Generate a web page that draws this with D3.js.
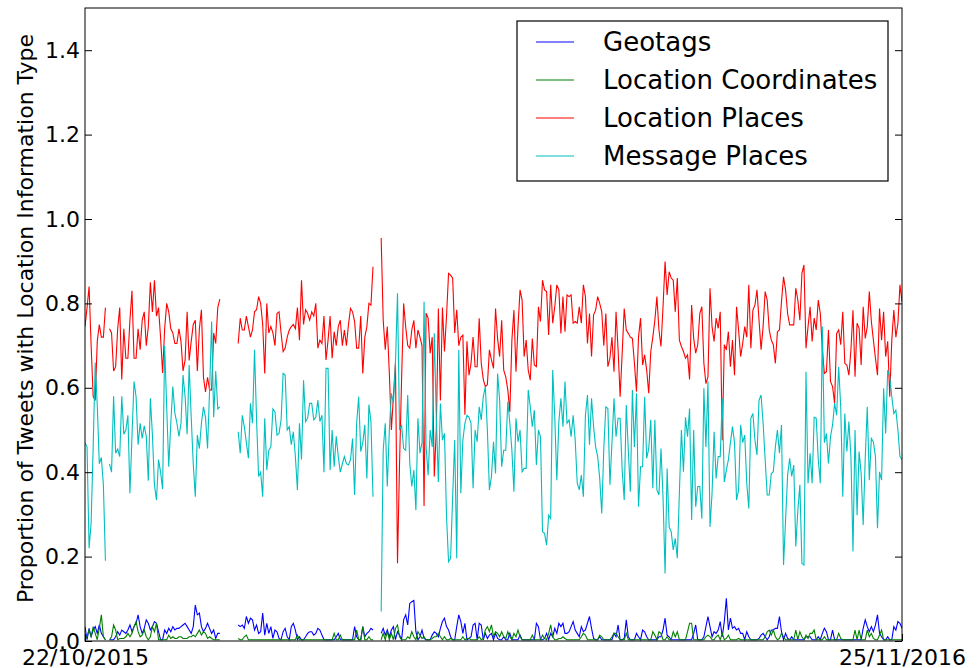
<!DOCTYPE html>
<html>
<head>
<meta charset="utf-8">
<script src="https://cdn.jsdelivr.net/npm/d3@7"></script>
<style>
  body { margin: 0; background: #fff; }
  svg { display: block; font-family: "DejaVu Sans", sans-serif; }
</style>
</head>
<body>
<svg id="chart" width="980" height="668"></svg>
<script>
// daily proportions, three recorded runs (days with no data are left out)
const dateLabels = ['22/10/2015', '25/11/2016'];
const runStarts = [0, 75, 145];
const yTicks = [0, 0.2, 0.4, 0.6, 0.8, 1.0, 1.2, 1.4];
const seriesNames = ['Geotags', 'Location Coordinates', 'Location Places', 'Message Places'];

const geotags = [
    [0.034, 0.003, 0.030, 0.010, 0.026, 0.034, 0.018, 0.038, 0.018, 0.010,
     0.003, null, 0.003, 0.003, 0.003, 0.010, 0.022, 0.014, 0.026, 0.022,
     0.018, 0.026, 0.038, 0.022, 0.034, 0.042, 0.062, 0.034, 0.018, 0.030,
     0.050, 0.042, 0.026, 0.034, 0.046, 0.042, 0.022, 0.003, 0.003, 0.026,
     0.018, 0.030, 0.022, 0.034, 0.026, 0.030, 0.030, 0.034, 0.038, 0.042,
     0.034, 0.026, 0.018, 0.034, 0.085, 0.062, 0.066, 0.034, 0.022, 0.030,
     0.042, 0.030, 0.018, 0.026, 0.006, 0.018, 0.018],
    [0.038, 0.034, 0.038, 0.030, 0.058, 0.042, 0.054, 0.050, 0.026, 0.038,
     0.018, 0.022, 0.066, 0.014, 0.042, 0.018, 0.034, 0.006, 0.026, 0.022,
     0.006, 0.003, 0.022, 0.030, 0.010, 0.003, 0.034, 0.042, 0.026, 0.003,
     0.010, 0.003, 0.003, 0.010, 0.018, 0.022, 0.022, 0.014, 0.018, 0.030,
     0.026, 0.014, 0.003, 0.003, 0.003, 0.003, 0.003, 0.003, 0.010, 0.018,
     0.003, 0.003, 0.003, 0.003, 0.003, 0.003, 0.003, 0.034, 0.010, 0.003,
     0.003, 0.034, 0.010, 0.018, 0.022, 0.030, 0.026],
    [0.018, 0.030, 0.014, 0.026, 0.010, 0.026, 0.034, 0.003, 0.022, 0.014,
     0.003, 0.050, 0.062, 0.038, 0.089, 0.093, 0.096, 0.022, 0.003, 0.010,
     0.026, 0.006, 0.003, 0.003, 0.003, 0.014, 0.022, 0.018, 0.010, 0.030,
     0.046, 0.054, 0.034, 0.026, 0.010, 0.003, 0.003, 0.034, 0.062, 0.046,
     0.018, 0.042, 0.003, 0.006, 0.010, 0.038, 0.042, 0.003, 0.042, 0.038,
     0.003, 0.018, 0.006, 0.014, 0.018, 0.003, 0.018, 0.006, 0.003, 0.003,
     0.010, 0.003, 0.003, 0.018, 0.003, 0.003, 0.003, 0.003, 0.014, 0.003,
     0.003, 0.003, 0.003, 0.003, 0.003, 0.003, 0.042, 0.034, 0.003, 0.003,
     0.006, 0.018, 0.003, 0.018, 0.010, 0.030, 0.018, 0.042, 0.034, 0.042,
     0.018, 0.018, 0.022, 0.034, 0.046, 0.026, 0.018, 0.010, 0.034, 0.022,
     0.026, 0.042, 0.058, 0.030, 0.006, 0.003, 0.003, 0.010, 0.003, 0.003,
     0.003, 0.003, 0.003, 0.003, 0.018, 0.010, 0.038, 0.003, 0.003, 0.006,
     0.050, 0.010,
     0.003, 0.003, 0.003, 0.018, 0.010, 0.003, 0.026, 0.022, 0.010, 0.003,
     0.003, 0.003, 0.003, 0.003, 0.010, 0.010, 0.026, 0.054, 0.014, 0.010,
     0.003, 0.003, 0.003, 0.003, 0.003, 0.003, 0.003, 0.003, 0.003, 0.003,
     0.003, 0.018, 0.038, 0.003, 0.003, 0.003, 0.010, 0.034, 0.058, 0.034,
     0.010, 0.022, 0.018, 0.026, 0.046, 0.010, 0.046, 0.101, 0.026, 0.054,
     0.030, 0.034, 0.026, 0.030, 0.018, 0.018, 0.003, 0.022, 0.010, 0.003,
     0.003, 0.003, 0.003, 0.006, 0.014, 0.018, 0.010, 0.003, 0.010, 0.026,
     0.026, 0.030, 0.030, 0.058, 0.022, 0.003, 0.018, 0.006, 0.003, 0.010,
     0.003, 0.003, 0.003, 0.003, 0.003, 0.003, 0.010, 0.010, 0.010, 0.003,
     0.003, 0.003, 0.010, 0.003, 0.018, 0.030, 0.022, 0.003, 0.003, 0.026,
     0.003, 0.003, 0.003, 0.003, 0.003, 0.003, 0.003, 0.003, 0.003, 0.003,
     0.003, 0.003, 0.003, 0.003, 0.030, 0.050, 0.034, 0.022, 0.034, 0.022,
     0.038, 0.062, 0.018, 0.010, 0.003, 0.003, 0.010, 0.003, 0.003, 0.034,
     0.026, 0.046, 0.042, 0.030]
];

const locationCoordinates = [
    [0.003, 0.010, 0.026, 0.010, 0.034, 0.018, 0.003, 0.030, 0.062, 0.010,
     0.003, null, 0.003, 0.010, 0.038, 0.026, 0.003, 0.006, 0.006, 0.006,
     0.010, 0.018, 0.010, 0.018, 0.034, 0.046, 0.022, 0.010, 0.014, 0.026,
     0.010, 0.003, 0.010, 0.034, 0.022, 0.042, 0.003, 0.003, 0.003, 0.003,
     0.003, 0.014, 0.006, 0.010, 0.006, 0.006, 0.010, 0.010, 0.006, 0.006,
     0.006, 0.010, 0.010, 0.014, 0.010, 0.018, 0.026, 0.014, 0.022, 0.018,
     0.006, 0.010, 0.006, 0.003, 0.003, 0.003, 0.003],
    [0.006, 0.003, 0.003, 0.010, 0.014, 0.003, 0.003, 0.003, 0.003, 0.003,
     0.003, 0.003, 0.003, 0.003, 0.003, 0.003, 0.003, 0.003, 0.003, 0.003,
     0.003, 0.003, 0.003, 0.003, 0.003, 0.003, 0.003, 0.003, 0.003, 0.014,
     0.003, 0.003, 0.003, 0.003, 0.003, 0.003, 0.003, 0.003, 0.003, 0.003,
     0.003, 0.003, 0.003, 0.003, 0.003, 0.003, 0.003, 0.018, 0.003, 0.003,
     0.014, 0.003, 0.003, 0.003, 0.003, 0.003, 0.003, 0.003, 0.026, 0.003,
     0.003, 0.034, 0.003, 0.003, 0.010, 0.003, 0.003],
    [0.003, 0.018, 0.003, 0.022, 0.003, 0.018, 0.003, 0.030, 0.038, 0.010,
     0.003, 0.003, 0.003, 0.010, 0.006, 0.022, 0.010, 0.003, 0.022, 0.014,
     0.006, 0.010, 0.003, 0.003, 0.003, 0.006, 0.010, 0.010, 0.018, 0.010,
     0.003, 0.010, 0.003, 0.003, 0.006, 0.003, 0.003, 0.003, 0.003, 0.003,
     0.010, 0.003, 0.006, 0.006, 0.003, 0.003, 0.003, 0.003, 0.010, 0.003,
     0.006, 0.026, 0.034, 0.022, 0.038, 0.010, 0.022, 0.018, 0.010, 0.022,
     0.010, 0.006, 0.022, 0.010, 0.003, 0.018, 0.010, 0.026, 0.010, 0.003,
     0.003, 0.003, 0.003, 0.003, 0.014, 0.003, 0.003, 0.003, 0.003, 0.014,
     0.006, 0.003, 0.018, 0.038, 0.010, 0.003, 0.003, 0.006, 0.006, 0.010,
     0.006, 0.003, 0.003, 0.003, 0.003, 0.003, 0.003, 0.003, 0.010, 0.018,
     0.014, 0.003, 0.003, 0.003, 0.003, 0.003, 0.003, 0.014, 0.010, 0.003,
     0.003, 0.003, 0.003, 0.010, 0.018, 0.018, 0.010, 0.003, 0.003, 0.003,
     0.018, 0.003,
     0.003, 0.003, 0.003, 0.003, 0.003, 0.003, 0.003, 0.003, 0.003, 0.003,
     0.003, 0.022, 0.014, 0.003, 0.022, 0.018, 0.003, 0.003, 0.010, 0.003,
     0.003, 0.022, 0.010, 0.022, 0.003, 0.003, 0.003, 0.003, 0.022, 0.042,
     0.042, 0.003, 0.003, 0.003, 0.003, 0.003, 0.003, 0.010, 0.014, 0.010,
     0.003, 0.003, 0.010, 0.014, 0.003, 0.018, 0.003, 0.006, 0.014, 0.003,
     0.003, 0.003, 0.003, 0.006, 0.003, 0.003, 0.003, 0.003, 0.003, 0.003,
     0.003, 0.003, 0.003, 0.003, 0.003, 0.003, 0.010, 0.022, 0.026, 0.014,
     0.026, 0.010, 0.003, 0.006, 0.018, 0.010, 0.003, 0.003, 0.003, 0.003,
     0.003, 0.026, 0.003, 0.022, 0.010, 0.003, 0.014, 0.006, 0.018, 0.018,
     0.026, 0.003, 0.003, 0.003, 0.003, 0.010, 0.003, 0.003, 0.003, 0.003,
     0.003, 0.003, 0.018, 0.006, 0.003, 0.003, 0.003, 0.003, 0.003, 0.003,
     0.026, 0.003, 0.026, 0.003, 0.003, 0.003, 0.026, 0.010, 0.018, 0.006,
     0.003, 0.003, 0.014, 0.026, 0.003, 0.003, 0.003, 0.003, 0.003, 0.003,
     0.003, 0.003, 0.003, 0.003]
];

const locationPlaces = [
    [0.745, 0.79, 0.84, 0.70, 0.58, 0.57, 0.71, 0.75, 0.72, 0.72,
     0.79, null, 0.74, 0.73, 0.64, 0.65, 0.74, 0.79, 0.62, 0.74,
     0.67, 0.67, 0.76, 0.83, 0.67, 0.67, 0.74, 0.69, 0.76, 0.78,
     0.70, 0.745, 0.85, 0.78, 0.855, 0.77, 0.79, 0.72, 0.635, 0.74,
     0.80, 0.78, 0.74, 0.73, 0.705, 0.705, 0.74, 0.71, 0.64, 0.665,
     0.78, 0.665, 0.71, 0.75, 0.76, 0.64, 0.74, 0.785, 0.625, 0.59,
     0.625, 0.595, 0.595, 0.73, 0.705, 0.79, 0.81],
    [0.705, 0.765, 0.737, 0.737, 0.77, 0.745, 0.72, 0.737, 0.78, 0.785,
     0.816, 0.80, 0.75, 0.634, 0.80, 0.73, 0.745, 0.73, 0.70, 0.776,
     0.78, 0.73, 0.686, 0.694, 0.72, 0.737, 0.745, 0.75, 0.74, 0.79,
     0.713, 0.855, 0.75, 0.785, 0.776, 0.76, 0.78, 0.77, 0.80, 0.694,
     0.713, 0.705, 0.77, 0.666, 0.713, 0.77, 0.67, 0.733, 0.70, 0.745,
     0.76, 0.70, 0.737, 0.70, 0.75, 0.788, 0.78, 0.757, 0.694, 0.694,
     0.77, 0.634, 0.72, 0.745, 0.80, 0.796, 0.887],
    [0.955, 0.76, 0.69, 0.745, 0.635, 0.50, 0.58, 0.66, 0.184, 0.42,
     0.62, 0.80, 0.745, 0.70, 0.694, 0.737, 0.76, 0.694, 0.737, 0.72,
     0.70, 0.32, 0.777, 0.765, 0.682, 0.72, 0.39, 0.50, 0.788, 0.57,
     0.79, 0.686, 0.77, 0.871, 0.867, 0.86, 0.73, 0.785, 0.70, 0.72,
     0.725, 0.536, 0.71, 0.63, 0.658, 0.72, 0.65, 0.65, 0.765, 0.658,
     0.62, 0.603, 0.607, 0.69, 0.666, 0.646, 0.788, 0.717, 0.674, 0.76,
     0.642, 0.626, 0.595, 0.543, 0.713, 0.784, 0.638, 0.745, 0.832, 0.808,
     0.674, 0.713, 0.642, 0.618, 0.717, 0.654, 0.65, 0.792,
     0.757, 0.855, 0.832, 0.828, 0.725, 0.844, 0.753, 0.792, 0.844, 0.832,
     0.729, 0.816, 0.733, 0.82, 0.816, 0.82, 0.753, 0.757, 0.753, 0.792,
     0.753, 0.844, 0.816, 0.705, 0.776, 0.674, 0.773, 0.784, 0.816, 0.80,
     0.78, 0.70, 0.776, 0.65, 0.67, 0.72, 0.638, 0.78, 0.69, 0.579,
     0.682, 0.788, 0.737, 0.729, 0.72, 0.717, 0.658, 0.591, 0.72, 0.765,
     0.654, 0.678, 0.642, 0.587, 0.686, 0.72, 0.76, 0.816, 0.737,
     0.698, 0.792, 0.899, 0.82, 0.875, 0.86, 0.855, 0.78, 0.86, 0.713,
     0.698, 0.686, 0.67, 0.678, 0.62,
     0.796, 0.717, 0.682, 0.702, 0.776, 0.792, 0.658, 0.61, 0.626, 0.836,
     0.745, 0.71, 0.765, 0.741, 0.78, 0.476, 0.702, 0.69, 0.733, 0.65,
     0.713, 0.63, 0.792, 0.737, 0.674, 0.705, 0.745, 0.72, 0.844, 0.694,
     0.784, 0.796, 0.832, 0.76, 0.69, 0.745, 0.828, 0.808, 0.737, 0.713,
     0.702, 0.658, 0.733, 0.737, 0.804, 0.863, 0.832, 0.776, 0.749, 0.749,
     0.749, 0.836, 0.808, 0.76, 0.871, 0.891,
     0.694, 0.745, 0.792, 0.71, 0.765, 0.737, 0.808, 0.776, 0.69, 0.634,
     0.638, 0.737, 0.615, 0.603, 0.563, 0.729, 0.737, 0.702, 0.78, 0.658,
     0.654, 0.63, 0.69, 0.784, 0.626, 0.753, 0.741, 0.654, 0.792,
     0.717, 0.745, 0.828, 0.757, 0.713, 0.67, 0.63, 0.788, 0.713, 0.78,
     0.674, 0.71, 0.579, 0.713, 0.784, 0.72, 0.753, 0.844, 0.804]
];

const messagePlaces = [
    [0.47, 0.46, 0.22, 0.28, 0.46, 0.66, 0.56, 0.42, 0.435, 0.37,
     0.19, null, 0.42, 0.40, 0.58, 0.445, 0.455, 0.437, 0.58, 0.49,
     0.50, 0.535, 0.35, 0.485, 0.615, 0.579, 0.465, 0.516, 0.48, 0.51,
     0.485, 0.38, 0.575, 0.49, 0.37, 0.334, 0.43, 0.40, 0.36, 0.70,
     0.555, 0.413, 0.516, 0.603, 0.54, 0.516, 0.485, 0.516, 0.63, 0.58,
     0.49, 0.654, 0.53, 0.42, 0.342, 0.488, 0.456, 0.516, 0.555, 0.53,
     0.456, 0.595, 0.757, 0.53, 0.64, 0.55, 0.555],
    [0.496, 0.445, 0.535, 0.508, 0.47, 0.433, 0.563, 0.516, 0.69, 0.524,
     0.39, 0.40, 0.342, 0.528, 0.405, 0.452, 0.46, 0.55, 0.543, 0.488,
     0.492, 0.524, 0.634, 0.63, 0.50, 0.508, 0.465, 0.496, 0.437, 0.358,
     0.516, 0.43, 0.618, 0.52, 0.528, 0.563, 0.563, 0.524, 0.53, 0.571,
     0.52, 0.535, 0.40, 0.646, 0.646, 0.405, 0.50, 0.413, 0.485, 0.437,
     0.40, 0.42, 0.437, 0.42, 0.417, 0.43, 0.48, 0.346, 0.516, 0.579,
     0.449, 0.47, 0.512, 0.385, 0.56, 0.52, 0.342],
    [0.07, 0.452, 0.516, 0.366, 0.50, 0.587, 0.563, 0.658, 0.824, 0.50,
     0.512, 0.456, 0.452, 0.583, 0.421, 0.366, 0.405, 0.31, 0.528,
     0.445, 0.47, 0.804, 0.46, 0.393, 0.50, 0.46, 0.729, 0.53, 0.377,
     0.563, 0.476, 0.492, 0.295, 0.188, 0.196, 0.342, 0.476, 0.196, 0.69,
     0.35, 0.476, 0.516, 0.535, 0.53, 0.516, 0.362, 0.50, 0.472, 0.555,
     0.524, 0.579, 0.603, 0.50, 0.358, 0.39, 0.472, 0.397, 0.634, 0.571,
     0.413, 0.452, 0.452, 0.567, 0.516, 0.452, 0.354, 0.528, 0.472, 0.50,
     0.401, 0.409, 0.409, 0.595, 0.555, 0.508, 0.547, 0.417, 0.50,
     0.484, 0.259, 0.255, 0.227, 0.298, 0.29, 0.642, 0.53, 0.381, 0.52,
     0.575, 0.508, 0.615, 0.516, 0.524, 0.484, 0.535, 0.476, 0.374, 0.358,
     0.393, 0.342, 0.535, 0.583, 0.465, 0.575, 0.508, 0.46, 0.437, 0.385,
     0.302, 0.456, 0.555, 0.551, 0.37, 0.47, 0.575, 0.484, 0.528, 0.528,
     0.405, 0.334, 0.559, 0.452, 0.354, 0.595, 0.46, 0.587, 0.318, 0.413,
     0.413, 0.579, 0.433, 0.456, 0.524, 0.362, 0.524, 0.358, 0.346,
     0.456, 0.342, 0.16, 0.409, 0.27, 0.259, 0.216, 0.243, 0.196, 0.35,
     0.50, 0.401, 0.53, 0.484, 0.551,
     0.287, 0.50, 0.318, 0.366, 0.366, 0.29, 0.599, 0.46, 0.615, 0.27,
     0.35, 0.496, 0.385, 0.437, 0.437, 0.575, 0.377, 0.405, 0.43, 0.47,
     0.508, 0.47, 0.334, 0.358, 0.512, 0.47, 0.488, 0.374, 0.314, 0.528,
     0.539, 0.476, 0.441, 0.571, 0.583, 0.516, 0.43, 0.346, 0.346, 0.397,
     0.401, 0.46, 0.50, 0.445, 0.512, 0.18, 0.287, 0.393, 0.433, 0.39,
     0.417, 0.224, 0.31, 0.37, 0.184, 0.18,
     0.638, 0.374, 0.445, 0.374, 0.53, 0.528, 0.43, 0.374, 0.745, 0.47,
     0.492, 0.421, 0.484, 0.512, 0.563, 0.535, 0.65, 0.555, 0.342, 0.539,
     0.449, 0.52, 0.437, 0.212, 0.50, 0.298, 0.449, 0.397, 0.275,
     0.433, 0.555, 0.381, 0.48, 0.472, 0.437, 0.267, 0.401, 0.381, 0.599,
     0.492, 0.642, 0.626, 0.579, 0.539, 0.547, 0.50, 0.437, 0.43]
];

const seriesColors = ['#0000ff', '#008000', '#ff0000', '#00bfbf'];

class LocationChart {
    constructor(el) {
        this.svg = d3.select(el);
        this.width = 980;
        this.height = 668;
        this.margin = {top: 8, right: 78, bottom: 27, left: 85};
        this.parseDate = d3.timeParse('%d/%m/%Y');
    }
    points(runs) {
        const start = this.parseDate(dateLabels[0]);
        const pts = [];
        runs.forEach((run, r) => {
            run.forEach((v, i) => pts.push({date: d3.timeDay.offset(start, runStarts[r] + i), v: v}));
            // break the line between runs
            if (r < runs.length - 1) pts.push({date: null, v: null});
        });
        return pts;
    }
    render() {
        const m = this.margin;
        const x = d3.scaleTime()
            .domain(dateLabels.map(this.parseDate))
            .range([m.left, this.width - m.right]);
        const y = d3.scaleLinear()
            .domain([0, 1.5])
            .range([this.height - m.bottom, m.top]);

        this.svg.append('clipPath')
            .attr('id', 'plot-clip')
            .append('rect')
            .attr('x', m.left)
            .attr('y', m.top)
            .attr('width', x.range()[1] - m.left)
            .attr('height', y.range()[0] - m.top);

        const line = d3.line()
            .defined(d => d.v != null)
            .x(d => x(d.date))
            .y(d => y(d.v));

        const all = [geotags, locationCoordinates, locationPlaces, messagePlaces];
        const lines = this.svg.append('g').attr('clip-path', 'url(#plot-clip)');
        all.forEach((runs, k) => {
            lines.append('path')
                .datum(this.points(runs))
                .attr('fill', 'none')
                .attr('stroke', seriesColors[k])
                .attr('stroke-width', 1.1)
                .attr('d', line);
        });

        // axes, ticks pointing inwards like the classic matplotlib style
        const xAxis = this.svg.append('g')
            .attr('transform', `translate(0,${y.range()[0]})`)
            .call(d3.axisBottom(x)
                .tickValues(x.domain())
                .tickFormat(d3.timeFormat('%d/%m/%Y'))
                .tickSizeInner(-7)
                .tickSizeOuter(0)
                .tickPadding(8));
        const yAxis = this.svg.append('g')
            .attr('transform', `translate(${m.left},0)`)
            .call(d3.axisLeft(y)
                .tickValues(yTicks)
                .tickFormat(d3.format('.1f'))
                .tickSizeInner(-7)
                .tickSizeOuter(0)
                .tickPadding(5));
        const yRight = this.svg.append('g')
            .attr('transform', `translate(${x.range()[1]},0)`)
            .call(d3.axisRight(y)
                .tickValues(yTicks)
                .tickFormat('')
                .tickSizeInner(-7)
                .tickSizeOuter(0));
        [xAxis, yAxis, yRight].forEach(g => {
            g.select('.domain').remove();
            g.selectAll('text').attr('font-family', 'DejaVu Sans').attr('font-size', 22).attr('fill', '#000');
            g.selectAll('.tick line').attr('stroke', '#000');
        });

        this.svg.append('rect')
            .attr('x', m.left)
            .attr('y', m.top)
            .attr('width', x.range()[1] - m.left)
            .attr('height', y.range()[0] - m.top)
            .attr('fill', 'none')
            .attr('stroke', '#000')
            .attr('stroke-width', 1);

        this.svg.append('text')
            .attr('transform', `translate(33,${(m.top + y.range()[0]) / 2 - 6}) rotate(-90)`)
            .attr('text-anchor', 'middle')
            .attr('font-size', 22)
            .text('Proportion of Tweets with Location Information Type');

        // legend
        const legend = this.svg.append('g').attr('transform', 'translate(517,21)');
        legend.append('rect')
            .attr('width', 371)
            .attr('height', 160)
            .attr('fill', '#fff')
            .attr('stroke', '#000')
            .attr('stroke-width', 1.2);
        seriesNames.forEach((name, i) => {
            const ly = 21 + i * 38;
            legend.append('line')
                .attr('x1', 19).attr('x2', 57)
                .attr('y1', ly).attr('y2', ly)
                .attr('stroke', seriesColors[i])
                .attr('stroke-width', 1.1);
            legend.append('text')
                .attr('x', 86)
                .attr('y', ly)
                .attr('dy', '0.36em')
                .attr('font-size', 26)
                .text(name);
        });
    }
}

new LocationChart('#chart').render();
</script>
</body>
</html>
